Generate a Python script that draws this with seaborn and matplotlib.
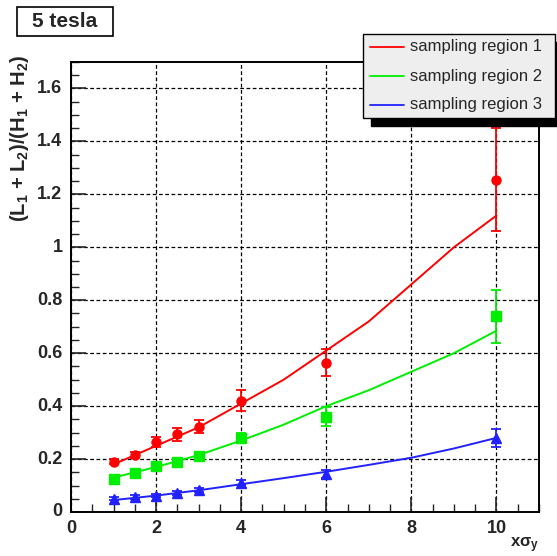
import numpy as np
import pandas as pd
import matplotlib
matplotlib.use("Agg")
import matplotlib.pyplot as plt
from matplotlib.patches import Rectangle
from matplotlib.lines import Line2D
from matplotlib.ticker import MultipleLocator
import seaborn as sns

# ---------------- data ----------------
point_x = [1, 1.5, 2, 2.5, 3, 4, 6, 10]
red_y = [0.19, 0.216, 0.265, 0.293, 0.322, 0.42, 0.564, 1.255]
red_err = [0.01, 0.012, 0.02, 0.025, 0.025, 0.04, 0.05, 0.195]
green_y = [0.125, 0.147, 0.174, 0.19, 0.212, 0.28, 0.36, 0.74]
green_err = [0.006, 0.008, 0.012, 0.01, 0.012, 0.02, 0.035, 0.10]
blue_y = [0.05, 0.057, 0.062, 0.071, 0.083, 0.111, 0.145, 0.28]
blue_err = [0.005, 0.006, 0.007, 0.008, 0.008, 0.01, 0.015, 0.035]

curve_x = [1, 2, 3, 4, 5, 6, 7, 8, 9, 10]
red_curve = [0.18, 0.25, 0.32, 0.41, 0.50, 0.61, 0.72, 0.86, 1.00, 1.12]
green_curve = [0.13, 0.17, 0.215, 0.27, 0.33, 0.40, 0.46, 0.53, 0.60, 0.685]
blue_curve = [0.045, 0.062, 0.082, 0.105, 0.128, 0.152, 0.178, 0.205, 0.24, 0.28]

labels = ["sampling region 1", "sampling region 2", "sampling region 3"]
colors = ["#ff0000", "#00ee00", "#2222ff"]
markers = ["o", "s", "^"]

# ---------------- style ----------------
sns.set_style("ticks")
plt.rcParams["font.family"] = ["Liberation Sans", "DejaVu Sans"]
plt.rcParams["font.weight"] = "bold"
plt.rcParams["mathtext.fontset"] = "custom"
plt.rcParams["mathtext.rm"] = "Liberation Sans:bold"
plt.rcParams["mathtext.it"] = "Liberation Sans:bold"
plt.rcParams["mathtext.bf"] = "Liberation Sans:bold"

fig = plt.figure(figsize=(5.57, 5.56), dpi=100)
W, H = 557, 556
ax = fig.add_axes([71 / W, 1 - 512 / H, (539 - 71) / W, (512 - 62) / H])

curve_df = pd.concat([
    pd.DataFrame({"x": curve_x, "y": red_curve, "s": labels[0]}),
    pd.DataFrame({"x": curve_x, "y": green_curve, "s": labels[1]}),
    pd.DataFrame({"x": curve_x, "y": blue_curve, "s": labels[2]}),
])
sns.lineplot(data=curve_df, x="x", y="y", hue="s", palette=colors,
             ax=ax, legend=False, linewidth=1.4, zorder=3)
ax.set_xlabel("")
ax.set_ylabel("")

for ys, es, c, m in zip([red_y, green_y, blue_y], [red_err, green_err, blue_err],
                        colors, markers):
    ax.errorbar(point_x, ys, yerr=es, fmt=m, color=c, ecolor=c,
                markersize=6.5, capsize=3.5, elinewidth=1.3, capthick=1.3,
                zorder=4)

ax.set_xlim(0, 11)
ax.set_ylim(0, 1.7)
ax.xaxis.set_major_locator(MultipleLocator(2))
ax.xaxis.set_minor_locator(MultipleLocator(0.5))
ax.yaxis.set_major_locator(MultipleLocator(0.2))
ax.yaxis.set_minor_locator(MultipleLocator(0.05))
ax.set_xticklabels([])
ax.set_yticklabels([])
ax.tick_params(which="major", direction="in", length=11, width=1.2)
ax.tick_params(which="minor", direction="in", length=6, width=1.0)
ax.tick_params(top=False, right=False, which="both")
ax.grid(True, which="major", color="black", linestyle=(0, (3, 2)), linewidth=0.9)
for s in ax.spines.values():
    s.set_linewidth(1.4)
    s.set_color("black")

# tick labels
for v in [0, 2, 4, 6, 8, 10]:
    ax.text(v, -0.03, f"{v}", transform=ax.transData, ha="center", va="top",
            fontsize=13, fontweight="bold")
for v in [0, 0.2, 0.4, 0.6, 0.8, 1.0, 1.2, 1.4, 1.6]:
    lab = "0" if v == 0 else ("1" if v == 1.0 else f"{v:.1f}")
    ax.text(-0.2, v, lab, transform=ax.transData, ha="right", va="center",
            fontsize=13, fontweight="bold")

# axis titles
fig.text(20 / W, 1 - 55 / H, r"(L$_1$ + L$_2$)/(H$_1$ + H$_2$)", rotation=90,
         ha="center", va="top", fontsize=14.5, fontweight="bold")
fig.text(539 / W, 1 - 545 / H, r"x$\sigma_{\rm y}$", ha="right", va="center",
         fontsize=12, fontweight="bold")

# title box
fig.patches.append(Rectangle((17 / W, 1 - 36 / H), 96 / W, 29 / H,
                             transform=fig.transFigure, facecolor="white",
                             edgecolor="black", linewidth=1.2))
fig.text(65 / W, 1 - 21.5 / H, "5 tesla", ha="center", va="center",
         fontsize=15, fontweight="bold")

# legend with shadow
fig.patches.append(Rectangle((371 / W, 1 - 126 / H), 190 / W, 84 / H,
                             transform=fig.transFigure, facecolor="black",
                             edgecolor="black", zorder=5))
fig.patches.append(Rectangle((363 / W, 1 - 118 / H), 192 / W, 84 / H,
                             transform=fig.transFigure, facecolor="#eeeeee",
                             edgecolor="black", linewidth=1.0, zorder=6))
for i, (lab, c) in enumerate(zip(labels, colors)):
    yy = 1 - (47 + i * 29) / H
    fig.lines.append(Line2D([370 / W, 404 / W], [yy, yy], transform=fig.transFigure,
                            color=c, linewidth=1.3, zorder=7))
    fig.text(410 / W, yy, lab, ha="left", va="center", fontsize=12,
             fontweight="normal", zorder=7)

fig.savefig("out.png", dpi=100)
